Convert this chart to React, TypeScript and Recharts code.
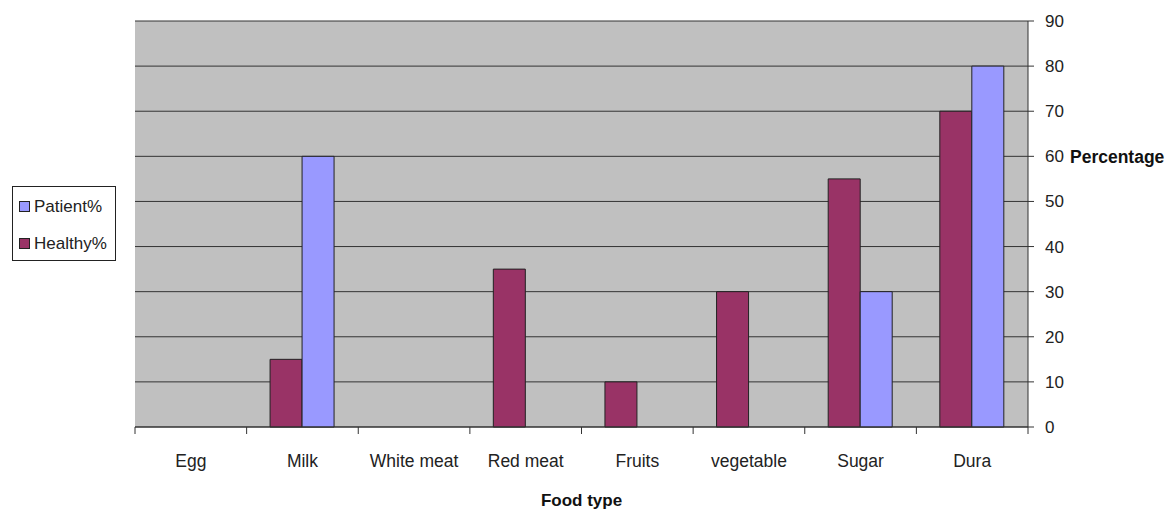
import { Bar, BarChart, CartesianGrid, Legend, ReferenceLine, XAxis, YAxis } from "recharts";

const foods = ["Egg", "Milk", "White meat", "Red meat", "Fruits", "vegetable", "Sugar", "Dura"];
const healthy = [0, 15, 0, 35, 10, 30, 55, 70];
const patient = [0, 60, 0, 0, 0, 0, 30, 80];
const yTicks = [0, 10, 20, 30, 40, 50, 60, 70, 80, 90];

const data = foods.map((food, i) => ({ food, healthy: healthy[i], patient: patient[i] }));

const FONT = '"Liberation Sans", Arial, sans-serif';
const PLOT_W = 1173 - 135 - 145;
const BAND = PLOT_W / foods.length;

function CategoryTick(props: any) {
  const { x, y, payload, index } = props;
  const left = x - BAND / 2;
  return (
    <g>
      <line x1={left} y1={y} x2={left} y2={y + 7} stroke="#333" />
      {index === foods.length - 1 && (
        <line x1={x + BAND / 2} y1={y} x2={x + BAND / 2} y2={y + 7} stroke="#333" />
      )}
      <text x={x} y={y + 40} textAnchor="middle" fontSize={17.5} fill="#222" fontFamily={FONT}>
        {payload.value}
      </text>
    </g>
  );
}

function LegendBox() {
  const items = [
    { name: "Patient%", color: "#9999FF" },
    { name: "Healthy%", color: "#993366" },
  ];
  return (
    <div
      style={{
        width: 104,
        height: 75,
        border: "1px solid #222",
        background: "#fff",
        boxSizing: "border-box",
        padding: "1px 0 0 6px",
        fontFamily: FONT,
        fontSize: 17,
        color: "#222",
      }}
    >
      {items.map((it) => (
        <div key={it.name} style={{ display: "flex", alignItems: "center", height: 37 }}>
          <span
            style={{
              width: 9,
              height: 9,
              background: it.color,
              border: "1px solid #222",
              marginRight: 4,
              display: "inline-block",
            }}
          />
          {it.name}
        </div>
      ))}
    </div>
  );
}

export default function App() {
  return (
    <div style={{ position: "absolute", left: 0, top: 0, background: "#fff" }}>
      <BarChart
        width={1173}
        height={511}
        data={data}
        margin={{ top: 21, right: 0, left: 135, bottom: 0 }}
        barCategoryGap="21%"
        barGap={0}
      >
        <CartesianGrid vertical={false} fill="#C0C0C0" stroke="#333" strokeOpacity={1} />
        <XAxis
          dataKey="food"
          height={84}
          tickLine={false}
          tickSize={0}
          tickMargin={0}
          axisLine={{ stroke: "#333" }}
          tick={<CategoryTick />}
          interval={0}
          label={{
            value: "Food type",
            position: "insideBottom",
            offset: 5,
            fontSize: 17,
            fontWeight: "bold",
            fill: "#111",
            fontFamily: FONT,
          }}
        />
        <YAxis
          orientation="right"
          width={145}
          domain={[0, 90]}
          ticks={yTicks}
          interval={0}
          tickSize={6}
          tickMargin={11}
          axisLine={{ stroke: "#333" }}
          tickLine={{ stroke: "#333" }}
          tick={{ fontSize: 17, fill: "#222", fontFamily: FONT, textAnchor: "start" }}
        />
        <ReferenceLine
          y={60}
          stroke="none"
          ifOverflow="visible"
          label={{
            value: "Percentage",
            position: "right",
            offset: 42,
            fontSize: 17.5,
            fontWeight: "bold",
            fill: "#111",
            fontFamily: FONT,
          }}
        />
        <Legend
          layout="vertical"
          align="center"
          verticalAlign="middle"
          wrapperStyle={{ left: 12, top: 186, width: 104 }}
          content={() => <LegendBox />}
        />
        <Bar dataKey="healthy" name="Healthy%" fill="#993366" stroke="#222" isAnimationActive={false} />
        <Bar dataKey="patient" name="Patient%" fill="#9999FF" stroke="#222" isAnimationActive={false} />
      </BarChart>
    </div>
  );
}
